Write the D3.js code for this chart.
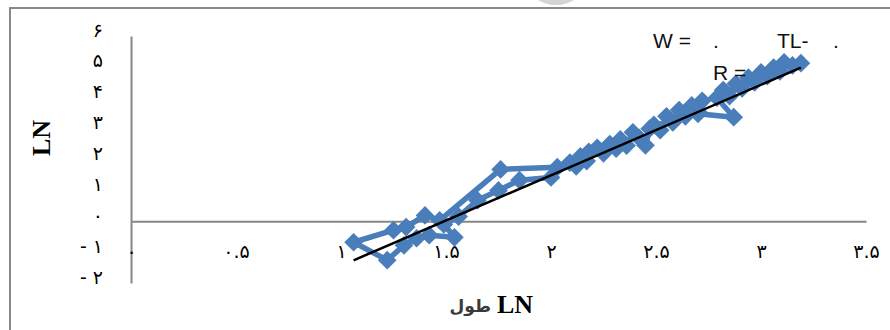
<!DOCTYPE html>
<html>
<head>
<meta charset="utf-8">
<script src="https://cdn.jsdelivr.net/npm/d3@7"></script>
<style>
  body { margin: 0; background: #fff; }
  svg { display: block; }
</style>
</head>
<body>
<svg width="890" height="330"></svg>
<script>
// LN length (x) and LN weight (y), in plotting order
var lnLength = [2.03, 1.76, 1.47, 1.40, 1.31, 1.25, 1.06, 1.22, 1.30, 1.36, 1.42, 1.54, 1.49, 1.56,
    1.65, 1.75, 1.85, 2.00, 2.09, 2.12, 2.14, 2.17, 2.18, 2.22, 2.25, 2.28, 2.31, 2.33, 2.36,
    2.39, 2.42, 2.45, 2.47, 2.49, 2.52, 2.55, 2.58, 2.61, 2.64, 2.67, 2.70, 2.72, 2.70, 2.87,
    2.79, 2.82, 2.85, 2.88, 2.91, 2.94, 2.97, 3.00, 3.03, 3.06, 3.09, 3.11, 3.15, 3.19];
var lnWeight = [1.75, 1.68, 0.03, 0.19, -0.19, -0.29, -0.68, -1.26, -0.78, -0.55, -0.45, -0.52, -0.10, 0.15,
    0.68, 1.00, 1.33, 1.42, 1.90, 1.78, 2.10, 1.95, 2.25, 2.38, 2.20, 2.50, 2.35, 2.65, 2.45,
    2.88, 2.70, 2.46, 3.00, 3.12, 2.95, 3.40, 3.20, 3.60, 3.40, 3.75, 3.55, 3.90, 3.48, 3.37,
    4.00, 4.25, 4.05, 4.45, 4.30, 4.65, 4.50, 4.82, 4.70, 4.98, 4.85, 5.15, 5.05, 5.12];

// fitted line W = a * TL + b
var trendSlope = 2.93;
var trendIntercept = -4.37;
var trendRange = [1.06, 3.19];

var xTicks = [0, 0.5, 1, 1.5, 2, 2.5, 3, 3.5];
var xTickLabels = ["۰", "۰.۵", "۱", "۱.۵", "۲", "۲.۵", "۳", "۳.۵"];
var yTicks = [-2, -1, 0, 1, 2, 3, 4, 5, 6];
var yTickLabels = ["- ۲", "- ۱", "۰", "۱", "۲", "۳", "۴", "۵", "۶"];

var blue = "#4a7ebb";
var axisGray = "#878787";

var svg = d3.select("svg");

var points = lnLength.map(function(d, i) { return {x: d, y: lnWeight[i]}; });

var xScale = d3.scaleLinear().domain([0, 3.5]).range([131, 866]);
var yScale = d3.scaleLinear().domain([-2, 6]).range([283, 36]);

// outer frame (only left and top edges are inside the picture)
svg.append("path")
    .attr("d", "M10,330 L10,8 L890,8")
    .attr("fill", "none")
    .attr("stroke", "#8a8a8a")
    .attr("stroke-width", 2);

// faint watermark arc at the top
svg.append("path")
    .attr("d", d3.arc()({innerRadius: 30, outerRadius: 35, startAngle: Math.PI * 0.65, endAngle: Math.PI * 1.35}))
    .attr("transform", "translate(556,-30)")
    .attr("fill", "#d4d4d4");

// y axis
var yAxis = d3.axisLeft(yScale)
    .tickValues(yTicks)
    .tickFormat(function(d, i) { return yTickLabels[i]; })
    .tickSize(0)
    .tickPadding(28);

var gy = svg.append("g")
    .attr("transform", "translate(" + xScale(0) + ",0)")
    .call(yAxis);
gy.select(".domain").attr("stroke", axisGray).attr("stroke-width", 2);
gy.selectAll("text")
    .attr("dy", 0)
    .attr("font-family", "DejaVu Sans")
    .attr("font-size", 19)
    .attr("fill", "#000");

// x axis, crossing at y = 0, labels pushed down
var xAxis = d3.axisBottom(xScale)
    .tickValues(xTicks)
    .tickFormat(function(d, i) { return xTickLabels[i]; })
    .tickSize(0);

var gx = svg.append("g")
    .attr("transform", "translate(0," + yScale(0) + ")")
    .call(xAxis);
gx.select(".domain").attr("stroke", axisGray).attr("stroke-width", 2);
gx.selectAll("text")
    .attr("y", 37)
    .attr("dy", 0)
    .attr("font-family", "DejaVu Sans")
    .attr("font-size", 19)
    .attr("fill", "#000");

// data series: line with diamond markers
var line = d3.line()
    .x(function(d) { return xScale(d.x); })
    .y(function(d) { return yScale(d.y); });

svg.append("path")
    .datum(points)
    .attr("d", line)
    .attr("fill", "none")
    .attr("stroke", blue)
    .attr("stroke-width", 5.5)
    .attr("stroke-linejoin", "round");

svg.selectAll(".marker")
    .data(points)
    .enter().append("path")
    .attr("class", "marker")
    .attr("d", d3.symbol().type(d3.symbolSquare).size(175))
    .attr("transform", function(d) { return "translate(" + xScale(d.x) + "," + yScale(d.y) + ") rotate(45)"; })
    .attr("fill", blue);

// trend line
svg.append("path")
    .datum(trendRange.map(function(x) { return {x: x, y: trendSlope * x + trendIntercept}; }))
    .attr("d", line)
    .attr("stroke", "#000")
    .attr("stroke-width", 2.5);

// equation text (digits missing as in the original)
var eq = svg.append("g")
    .attr("font-family", "Liberation Sans, Arial, sans-serif")
    .attr("font-size", 21)
    .attr("fill", "#111");
eq.append("text").attr("x", 653).attr("y", 48).text("W =");
eq.append("text").attr("x", 713).attr("y", 48).text(".");
eq.append("text").attr("x", 777).attr("y", 48).text("TL-");
eq.append("text").attr("x", 833).attr("y", 48).text(".");
eq.append("text").attr("x", 713).attr("y", 80).text("R =");

// axis titles
svg.append("text")
    .attr("transform", "translate(50,138) rotate(-90)")
    .attr("text-anchor", "middle")
    .attr("font-family", "Liberation Serif, Times New Roman, serif")
    .attr("font-weight", "bold")
    .attr("font-size", 26)
    .text("LN");

svg.append("text")
    .attr("x", 497)
    .attr("y", 313)
    .attr("font-family", "Liberation Serif, Times New Roman, serif")
    .attr("font-weight", "bold")
    .attr("font-size", 26)
    .text("LN");

svg.append("text")
    .attr("x", 491)
    .attr("y", 312)
    .attr("text-anchor", "end")
    .attr("font-family", "DejaVu Sans")
    .attr("font-weight", "bold")
    .attr("font-size", 17)
    .attr("fill", "#3a3a3a")
    .text("طول");
</script>
</body>
</html>
